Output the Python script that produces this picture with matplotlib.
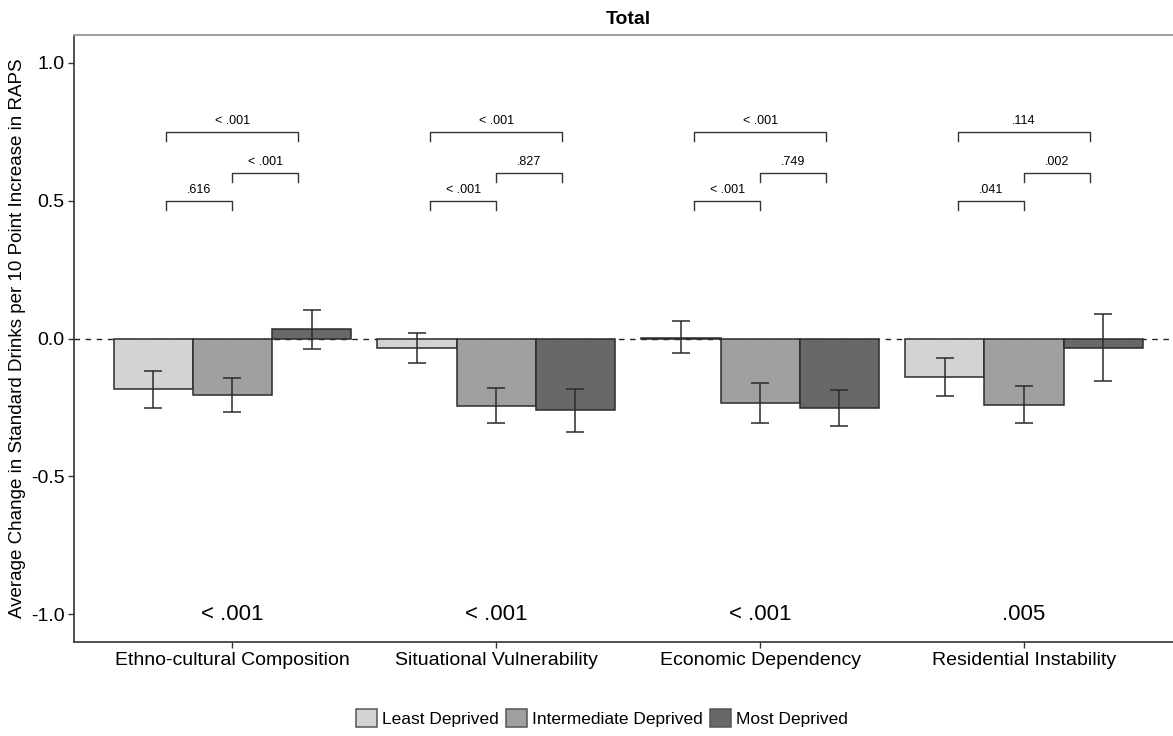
import numpy as np
import matplotlib; matplotlib.use('Agg')
import matplotlib.pyplot as plt
from matplotlib.patches import Patch
from matplotlib import rcParams
rcParams.update({'font.family': ['Liberation Sans', 'DejaVu Sans'], 'axes.unicode_minus': False})

# ---- data ----
categories = ['Ethno-cultural Composition', 'Situational Vulnerability',
              'Economic Dependency', 'Residential Instability']
groups = ['Least Deprived', 'Intermediate Deprived', 'Most Deprived']
colors = ['#d3d3d3', '#a0a0a0', '#686868']

means = {
    'Least Deprived':        [-0.183, -0.035, 0.002, -0.139],
    'Intermediate Deprived': [-0.203, -0.244, -0.233, -0.240],
    'Most Deprived':         [0.033, -0.258, -0.252, -0.034],
}
ci_low = {
    'Least Deprived':        [-0.251, -0.088, -0.054, -0.207],
    'Intermediate Deprived': [-0.265, -0.306, -0.305, -0.307],
    'Most Deprived':         [-0.039, -0.338, -0.317, -0.153],
}
ci_high = {
    'Least Deprived':        [-0.117, 0.019, 0.064, -0.070],
    'Intermediate Deprived': [-0.142, -0.180, -0.162, -0.171],
    'Most Deprived':         [0.105, -0.182, -0.186, 0.088],
}
# pairwise p-values: least vs intermediate, intermediate vs most, least vs most
p_li = ['.616', '< .001', '< .001', '.041']
p_im = ['< .001', '.827', '.749', '.002']
p_lm = ['< .001', '< .001', '< .001', '.114']
p_overall = ['< .001', '< .001', '< .001', '.005']

# ---- figure ----
W, H = 1173, 736
fig = plt.figure(figsize=(W/100, H/100), dpi=100)
ax = fig.add_axes([74/W, (H-642)/H, (1182.4-74)/W, (642-35)/H])

x = np.arange(1, len(categories)+1)
bw = 0.3
edge = '#2b2b2b'
for i, g in enumerate(groups):
    xs = x + (i-1)*bw
    m = np.array(means[g]); lo = np.array(ci_low[g]); hi = np.array(ci_high[g])
    ax.bar(xs, m, width=bw, color=colors[i], edgecolor=edge, linewidth=1.1, zorder=2)
    ax.errorbar(xs, m, yerr=[m-lo, hi-m], fmt='none', ecolor=edge, elinewidth=1.1,
                capsize=6.5, capthick=1.1, zorder=3)

ax.axhline(0, color='#222222', lw=1.0, ls=(0, (4, 4)), zorder=1)

# brackets
tick = 0.033
def bracket(x1, x2, y, lab):
    ax.plot([x1, x1, x2, x2], [y-tick, y, y, y-tick], color='#333333', lw=1.0, zorder=3)
    ax.text((x1+x2)/2, y+0.038, lab, ha='center', va='center', fontsize=9)

for k, xc in enumerate(x):
    bracket(xc-0.25, xc, 0.50, p_li[k])
    bracket(xc, xc+0.25, 0.60, p_im[k])
    bracket(xc-0.25, xc+0.25, 0.75, p_lm[k])
    ax.text(xc, -1.0, p_overall[k], ha='center', va='center', fontsize=16)

ax.set_xlim(0.4, 4.6)
ax.set_ylim(-1.1, 1.1)
ax.set_xticks(x)
ax.set_xticklabels(categories, fontsize=14)
ax.set_yticks([-1.0, -0.5, 0.0, 0.5, 1.0])
ax.set_yticklabels(['-1.0', '-0.5', '0.0', '0.5', '1.0'], fontsize=14)
ax.tick_params(length=4, width=1, color='#333333', pad=3)
for s in ['left', 'bottom']:
    ax.spines[s].set_color('#333333'); ax.spines[s].set_linewidth(1.2)
ax.spines['right'].set_visible(False)
ax.spines['top'].set_color('#a0a0a0'); ax.spines['top'].set_linewidth(1.4)
ax.set_ylabel('Average Change in Standard Drinks per 10 Point Increase in RAPS', fontsize=13.5, labelpad=3)
ax.set_title('Total', fontsize=14, fontweight='bold', pad=8)

handles = [Patch(facecolor=c, edgecolor='#555555', linewidth=1.1) for c in colors]
fig.legend(handles, groups, loc='center', bbox_to_anchor=(602/W, 1-718/H), ncol=3,
           frameon=False, fontsize=12.5, handlelength=1.2, handleheight=1.2,
           handletextpad=0.3, columnspacing=0.4)

fig.savefig('out.png', dpi=100, facecolor='white')
